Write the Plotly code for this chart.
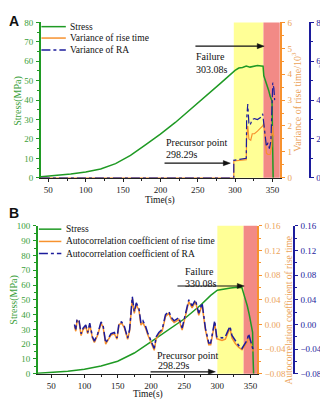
import plotly.graph_objects as go

W, H = 328, 400

# ---------------- data: panel A ----------------
stress_a_t = [40, 60, 80, 100, 120, 140, 160, 180, 200, 220, 240, 260, 280, 300, 305, 310, 315, 320, 325, 330, 335, 337.5, 338.5, 342, 345, 347, 349.5, 350.2, 351]
stress_a_v = [0.5, 1.2, 2.0, 3.0, 4.5, 7.3, 11.5, 17, 22.5, 28.5, 35, 41.5, 48.5, 55.3, 56.5, 56.8, 57.5, 57.0, 57.5, 57.8, 57.6, 57.5, 52.5, 49, 45, 42, 39.5, 20, 0]

var_rt_t = [40, 298.29, 298.3, 305, 315, 315.5, 317, 318.5, 321, 323, 326, 330, 334, 337, 338.5, 340, 342, 344, 347, 349, 350, 351, 352]
var_rt_v = [0, 0, 0.65, 0.68, 0.7, 1.5, 2.0, 1.5, 1.45, 1.7, 1.7, 1.8, 1.9, 2.0, 2.1, 1.5, 0.95, 0.9, 0.9, 1.2, 2.0, 1.7, 1.6]

var_ra_t = [40, 298.29, 298.3, 305, 315, 315.5, 317, 318.5, 320, 323, 326, 330, 334, 337, 338.5, 340, 342, 344, 346, 348, 349.5, 350.5, 352, 353]
var_ra_v = [0, 0, 0.9, 0.95, 1.0, 3.0, 3.8, 2.8, 2.7, 3.0, 3.05, 3.0, 3.1, 3.3, 2.8, 2.0, 1.6, 1.8, 1.5, 1.9, 3.5, 4.9, 4.6, 4.0]

# ---------------- data: panel B ----------------
stress_b_t = [30, 50, 75, 100, 125, 150, 175, 200, 225, 250, 275, 290, 300, 310, 320, 330, 337, 339, 342, 345, 348, 351, 353, 353.8, 354.5]
stress_b_v = [0.3, 0.8, 1.7, 3.0, 5.3, 8.5, 14, 21.5, 29, 37, 46.5, 53, 56.5, 57.5, 58, 58.5, 58.2, 55, 51, 46, 40, 33, 28, 10, 0]

acf_t = [85, 87, 89, 92, 95, 98, 102, 105, 108, 112, 115, 120, 125, 128, 132, 136, 140, 145, 149, 152, 156, 160, 165, 168, 172, 175, 178, 182, 185, 188, 192, 195, 200, 205, 208, 212, 217, 222, 227, 231, 235, 242, 247, 252, 257, 262, 267, 272, 277, 282, 287, 290, 293, 296, 299, 302, 307, 312, 316, 319, 322, 327, 332, 337, 341, 345, 347, 351, 354]
acf_ra = [0.000, -0.008, 0.009, 0.006, -0.015, -0.006, -0.001, -0.013, 0.002, -0.020, -0.027, -0.015, 0.004, -0.001, -0.030, -0.022, -0.015, -0.013, -0.022, 0.002, 0.004, -0.003, -0.022, -0.008, 0.045, 0.021, 0.035, 0.026, 0.002, 0.006, -0.003, -0.013, -0.027, -0.039, -0.020, -0.013, -0.008, 0.016, 0.021, 0.011, 0.006, 0.011, -0.006, 0.018, 0.040, 0.030, 0.040, 0.018, 0.035, -0.006, -0.030, -0.030, -0.008, 0.006, -0.020, -0.020, -0.022, -0.020, -0.010, -0.003, -0.018, -0.027, -0.034, -0.039, -0.032, -0.025, -0.015, -0.030, -0.042]
acf_rt = [-0.003, -0.011, 0.006, 0.004, -0.018, -0.008, -0.004, -0.015, 0.000, -0.022, -0.029, -0.017, 0.002, -0.004, -0.032, -0.024, -0.017, -0.015, -0.024, 0.000, 0.002, -0.005, -0.024, -0.010, 0.042, 0.018, 0.032, 0.023, -0.001, 0.003, -0.006, -0.016, -0.030, -0.042, -0.023, -0.016, -0.011, 0.013, 0.018, 0.008, 0.003, 0.008, -0.009, 0.015, 0.037, 0.027, 0.037, 0.015, 0.032, -0.009, -0.033, -0.033, -0.011, 0.003, -0.023, -0.024, -0.026, -0.024, -0.014, -0.006, -0.022, -0.031, -0.037, -0.041, -0.035, -0.028, -0.018, -0.033, -0.044]

# ---------------- styling ----------------
GREEN = "#1f9a24"
GREEN_T = "#3aa03a"
ORANGE = "#f7922e"
ORANGE_T = "#eba35a"
BLUE = "#1c1c9c"
YELLOW = "#ffff96"
RED = "#f28a86"
SERIF = "Liberation Serif"

def px(x):
    return x / W

def py(y):
    return 1 - y / H

dom_ax = [px(33), px(272.7)]
dom_ay = [py(169), py(9.7)]
dom_bx = [px(30), px(250)]
dom_by = [py(370), py(218.3)]

fig = go.Figure()

# Panel A traces
fig.add_trace(go.Scatter(x=stress_a_t, y=stress_a_v, mode="lines", line=dict(color=GREEN, width=1.5), xaxis="x", yaxis="y", showlegend=False))
fig.add_trace(go.Scatter(x=var_rt_t, y=var_rt_v, mode="lines", line=dict(color=ORANGE, width=1.2), xaxis="x", yaxis="y2", showlegend=False))
fig.add_trace(go.Scatter(x=var_ra_t, y=var_ra_v, mode="lines", line=dict(color=BLUE, width=1.2, dash="dashdot"), xaxis="x", yaxis="y3", showlegend=False))

# Panel B traces
fig.add_trace(go.Scatter(x=stress_b_t, y=stress_b_v, mode="lines", line=dict(color=GREEN, width=1.5), xaxis="x2", yaxis="y4", showlegend=False))
fig.add_trace(go.Scatter(x=acf_t, y=acf_rt, mode="lines", line=dict(color=ORANGE, width=1.5), xaxis="x2", yaxis="y5", showlegend=False))
fig.add_trace(go.Scatter(x=acf_t, y=acf_ra, mode="lines", line=dict(color=BLUE, width=1.5, dash="dashdot"), xaxis="x2", yaxis="y6", showlegend=False))


def xax(domain, anchor, rng):
    return dict(domain=domain, anchor=anchor, range=rng, tick0=0, dtick=50,
                showgrid=False, zeroline=False, showline=True, linecolor="#222", linewidth=1,
                ticks="outside", ticklen=3, tickcolor="#222",
                minor=dict(ticks="outside", ticklen=2, dtick=25, tickcolor="#222"),
                tickfont=dict(family=SERIF, size=9, color="#222"))

def yax(domain, anchor, rng, dtick, minor, color, tcolor, side="left", overlay=None, position=None, fmt=None):
    d = dict(domain=domain, range=rng, dtick=dtick, showgrid=False, zeroline=False,
             showline=True, linecolor=color, linewidth=1.5, ticks="outside", ticklen=3, tickcolor=color,
             minor=dict(ticks="outside", ticklen=2, dtick=minor, tickcolor=color),
             ticklabelstandoff=1,
             tickfont=dict(family=SERIF, size=9, color=tcolor), side=side)
    if overlay:
        d["overlaying"] = overlay
    if position is not None:
        d["anchor"] = "free"
        d["position"] = position
    else:
        d["anchor"] = anchor
    if fmt:
        d["tickformat"] = fmt
    return d

fig.update_layout(
    width=W, height=H, autosize=False,
    margin=dict(l=0, r=0, t=0, b=0),
    paper_bgcolor="white", plot_bgcolor="rgba(0,0,0,0)",
    showlegend=False,
    xaxis=xax(dom_ax, "y", [40, 360]),
    yaxis=yax(dom_ay, "x", [0, 80], 10, 5, GREEN, GREEN_T),
    yaxis2=yax(dom_ay, "x", [0, 6], 1, 0.5, ORANGE, ORANGE_T, side="right", overlay="y"),
    yaxis3=yax(dom_ay, "x", [0, 8], 2, 1, BLUE, BLUE, side="right", overlay="y", position=px(302.7)),
    xaxis2=xax(dom_bx, "y4", [30, 360]),
    yaxis4=yax(dom_by, "x2", [0, 100], 10, 5, GREEN, GREEN_T),
    yaxis5=yax(dom_by, "x2", [-0.08, 0.16], 0.04, 0.02, ORANGE, ORANGE_T, side="right", overlay="y4", fmt=".2f"),
    yaxis6=yax(dom_by, "x2", [-0.08, 0.16], 0.04, 0.02, BLUE, BLUE, side="right", overlay="y4", position=px(286.7), fmt=".2f"),
)

# shaded stages
shapes = [
    dict(type="rect", xref="x", yref="paper", x0=298.29, x1=338, y0=dom_ay[0], y1=dom_ay[1], fillcolor=YELLOW, line=dict(width=0), layer="below"),
    dict(type="rect", xref="x", yref="paper", x0=338, x1=360, y0=dom_ay[0], y1=dom_ay[1], fillcolor=RED, line=dict(width=0), layer="below"),
    dict(type="rect", xref="x2", yref="paper", x0=300, x1=339.5, y0=dom_by[0], y1=dom_by[1], fillcolor=YELLOW, line=dict(width=0), layer="below"),
    dict(type="rect", xref="x2", yref="paper", x0=339.5, x1=360, y0=dom_by[0], y1=dom_by[1], fillcolor=RED, line=dict(width=0), layer="below"),
]

# legend samples (manual, compact spacing)
leg_a = [("Stress", GREEN, "solid", 14), ("Variance of rise time", ORANGE, "solid", 25.7), ("Variance of RA", BLUE, "dashdot", 38)]
leg_b = [("Stress", GREEN, "solid", 221.7), ("Autocorrelation coefficient of rise time", ORANGE, "solid", 234.3), ("Autocorrelation coefficient of RA", BLUE, "dashdot", 246.7)]

annotations = []
for items, x0, x1, xt in [(leg_a, 33.5, 58, 60), (leg_b, 31, 53.5, 56)]:
    for name, col, dash, yy in items:
        shapes.append(dict(type="line", xref="paper", yref="paper", x0=px(x0), x1=px(x1), y0=py(yy), y1=py(yy), line=dict(color=col, width=1.5, dash=dash)))
        annotations.append(dict(text=name, xref="paper", yref="paper", x=px(xt), y=py(yy), xanchor="left", yanchor="middle", showarrow=False, font=dict(family=SERIF, size=9.5, color="#111")))

def txt(t, x, y, size=10, color="#111", xanchor="left", angle=0, family=SERIF, bold=False):
    if bold:
        t = "<b>" + t + "</b>"
    annotations.append(dict(text=t, xref="paper", yref="paper", x=px(x), y=py(y), xanchor=xanchor, yanchor="middle", showarrow=False, textangle=angle, borderpad=0, font=dict(family=family, size=size, color=color)))

def arrow(x_tail, x_head, y):
    shapes.append(dict(type="line", xref="paper", yref="paper", x0=px(x_tail), x1=px(x_head - 5), y0=py(y), y1=py(y), line=dict(color="#111", width=1.2)))
    path = "M {} {} L {} {} L {} {} Z".format(px(x_head), py(y), px(x_head - 7), py(y - 2.6), px(x_head - 7), py(y + 2.6))
    shapes.append(dict(type="path", xref="paper", yref="paper", path=path, fillcolor="#111", line=dict(color="#111", width=0.5)))

# panel A labels
txt("A", 0, 8, size=14, family="Arial", bold=True)
txt("Failure", 187.5, 45)
txt("303.08s", 187.5, 58)
arrow(188, 257, 34)
txt("Precursor point", 157, 133)
txt("298.29s", 157, 145)
arrow(157, 223, 154)
txt("Time(s)", 152.8, 192.5, size=9.5, xanchor="center")
txt("Stress(MPa)", 10, 90, size=10, color=GREEN_T, xanchor="center", angle=-90)
txt("Variance of rise time/10<sup>3</sup>", 289, 91, size=10, color=ORANGE_T, xanchor="center", angle=-90)
txt("Variance of RA/10<sup>3</sup>", 316, 90, size=9, color=BLUE, xanchor="center", angle=-90)

# panel B labels
txt("B", 0, 205, size=14, family="Arial", bold=True)
txt("Failure", 192.5, 265, xanchor="center")
txt("330.08s", 193.5, 277, xanchor="center")
arrow(170, 237, 280)
txt("Precursor point", 148, 351)
txt("298.29s", 149, 362)
arrow(143, 208, 368)
txt("Time(s)", 140, 391.5, size=9.5, xanchor="center")
txt("Stress(MPa)", 6, 294, size=10, color=GREEN_T, xanchor="center", angle=-90)
txt("Autocorrelation coefficient of rise time", 282, 305, size=9.5, color=ORANGE_T, xanchor="center", angle=-90)
txt("Autocorrelation coefficient of RA", 316, 300, size=9, color=BLUE, xanchor="center", angle=-90)

fig.update_layout(shapes=shapes, annotations=annotations)

fig.write_html("out.html")
